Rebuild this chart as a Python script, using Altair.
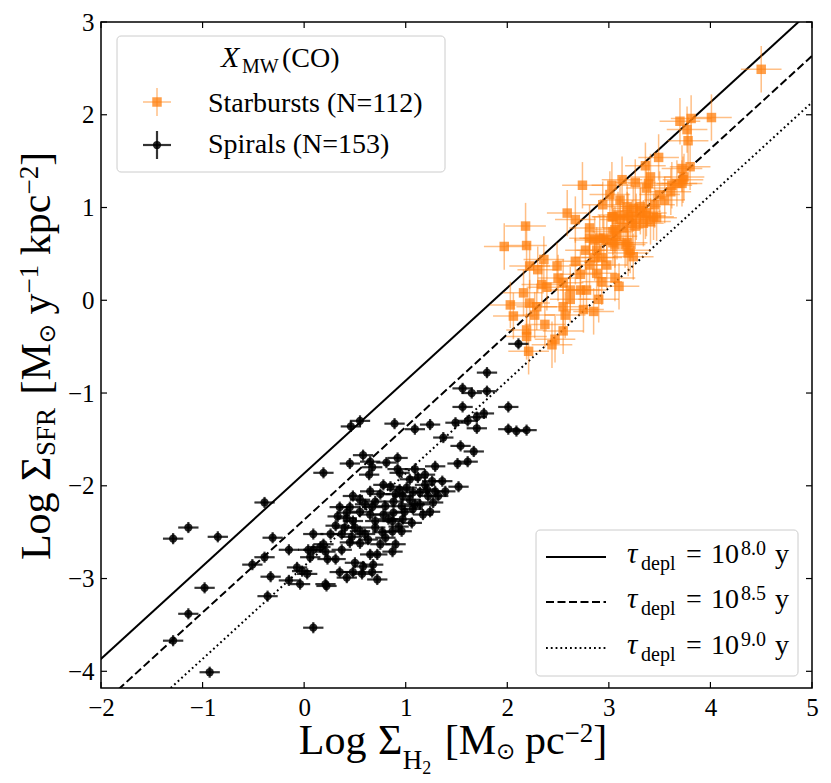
import math
import altair as alt
import pandas as pd

SERIF = "Liberation Serif"
SYMF = "DejaVu Sans"
ORANGE = "#ff7f0e"

# ---------------- data ----------------
SB_X = [4.50, 3.70, 3.81, 4.01, 3.77, 3.78, 3.49, 3.36, 3.72, 3.80,
        3.74, 3.72, 3.62, 3.61, 3.41, 3.39, 3.26, 3.37, 3.13, 3.03,
        2.74, 2.94, 2.59, 2.67, 2.18, 1.97, 2.19, 2.22, 2.36, 2.30,
        2.49, 2.67, 2.81, 2.81, 2.86, 2.95, 2.98, 3.04, 3.08, 3.03,
        3.09, 3.18, 3.24, 3.31, 3.18, 3.27, 3.37, 3.44, 3.47, 3.23,
        3.34, 3.41, 3.14, 3.26, 3.18, 3.21, 3.24, 3.06, 2.88, 2.86,
        2.93, 2.98, 2.88, 2.93, 3.06, 3.10, 2.50, 2.55, 2.34, 2.39,
        2.62, 2.72, 2.78, 2.16, 2.03, 2.22, 2.29, 2.55, 2.57, 2.75,
        2.85, 2.90, 2.06, 2.27, 2.19, 2.19, 2.55, 2.47, 2.44, 2.21,
        3.31, 3.19, 3.36, 3.04, 3.11, 3.06, 2.91, 3.04, 3.16, 3.19,
        3.67, 3.73, 3.50, 3.55, 3.45, 3.11, 3.01, 2.77, 2.72, 2.62,
        2.37, 2.81]
SB_Y = [2.49, 1.93, 1.96, 1.97, 1.84, 1.72, 1.54, 1.45, 1.42, 1.44,
        1.33, 1.26, 1.24, 1.17, 1.33, 1.26, 1.27, 1.21, 1.30, 1.24,
        1.24, 1.03, 0.94, 0.87, 0.80, 0.58, 0.59, 0.37, 0.44, 0.33,
        0.37, 0.42, 0.78, 0.67, 0.65, 0.67, 0.65, 0.74, 0.69, 0.90,
        0.92, 1.01, 0.99, 1.01, 0.92, 0.90, 0.94, 0.90, 0.89, 0.83,
        0.83, 0.85, 0.78, 0.80, 0.62, 0.54, 0.47, 0.60, 0.54, 0.46,
        0.46, 0.38, 0.29, 0.20, 0.24, 0.15, 0.24, 0.19, 0.17, 0.14,
        0.11, 0.11, 0.11, 0.08, -0.05, -0.03, -0.07, -0.07, -0.16, -0.10,
        -0.12, 0.01, -0.17, -0.16, -0.32, -0.39, -0.33, -0.42, -0.48, -0.55,
        0.96, 0.90, 0.91, 0.90, 0.87, 0.76, 0.67, 0.62, 0.60, 0.51,
        1.26, 1.30, 1.14, 1.08, 1.03, 1.08, 1.14, 0.54, 0.28, 0.01,
        -0.26, 0.38]

SP_X = [-1.29, -1.14, -0.85, -0.39, -0.98, -1.14, -1.29, -0.93, 0.09, 0.19,
        -0.31, -0.15, -0.39, -0.51, -0.36, -0.33, -0.15, -0.04, 0.22, -0.07,
        -0.02, 0.03, 0.09, 0.04, 0.09, 0.16, 0.06, 0.23, 0.31, 0.21,
        0.35, 0.42, 0.48, 0.57, 0.67, 0.72, 0.50, 0.58, 0.68, 0.65,
        0.72, 0.87, 0.19, 0.21, 0.37, 0.45, 0.55, 0.37, 0.47, 0.60,
        0.80, 0.31, 0.50, 0.55, 0.70, 0.77, 0.87, 0.96, 0.33, 0.42,
        0.48, 0.70, 0.87, 0.97, 1.06, 0.35, 0.45, 0.55, 0.65, 0.78,
        0.88, 0.99, 1.07, 1.17, 1.24, 0.42, 0.48, 0.55, 0.70, 0.80,
        0.88, 0.96, 1.27, 0.65, 0.78, 0.85, 1.04, 1.12, 1.01, 1.07,
        0.97, 1.04, 1.14, 1.26, 1.36, 1.29, 1.39, 1.52, 0.45, 0.58,
        0.65, 0.67, 0.64, 0.81, 0.92, 0.92, 0.94, 1.29, 1.51, 1.61,
        1.54, 1.67, 1.37, 1.09, 1.24, 0.89, 0.46, 0.55, 1.49, 1.61,
        1.70, 1.77, 1.70, 1.56, 2.01, 1.56, 1.65, 1.80, 1.80, 2.01,
        2.09, 2.19, 2.11, 1.19, 1.22, 1.32, 1.09, 0.94, 0.90, 0.75,
        0.60, 0.67, 0.83, 0.93, 1.14, 1.21, 1.09, 1.19, 0.40, 0.63,
        0.75, 0.90, 0.26]
SP_Y = [-2.57, -2.45, -2.55, -2.18, -3.10, -3.38, -3.67, -4.01, -3.53, -1.86,
        -2.56, -2.69, -2.77, -2.85, -3.19, -2.98, -3.02, -3.06, -3.08, -2.88,
        -2.92, -2.95, -2.52, -2.69, -2.69, -2.66, -2.77, -2.79, -2.79, -3.06,
        -2.93, -2.99, -2.93, -2.95, -2.93, -3.01, -2.83, -2.87, -2.85, -2.74,
        -2.74, -2.71, -2.63, -2.71, -2.69, -2.61, -2.62, -2.52, -2.55, -2.52,
        -2.56, -2.43, -2.45, -2.49, -2.45, -2.50, -2.49, -2.49, -2.33, -2.35,
        -2.38, -2.38, -2.38, -2.36, -2.40, -2.23, -2.23, -2.28, -2.31, -2.31,
        -2.29, -2.28, -2.25, -2.31, -2.28, -2.29, -2.11, -2.15, -2.17, -2.22,
        -2.17, -2.22, -2.18, -2.06, -1.99, -2.01, -1.93, -1.91, -2.02, -2.07,
        -2.11, -2.15, -2.07, -1.95, -1.95, -2.06, -2.06, -2.01, -1.76, -1.67,
        -1.74, -1.80, -1.88, -1.75, -1.70, -1.82, -1.86, -1.79, -1.76, -1.74,
        -1.57, -1.63, -1.48, -1.39, -1.34, -1.33, -1.36, -1.30, -1.32, -1.30,
        -1.26, -1.22, -1.38, -1.15, -1.15, -0.95, -1.00, -0.98, -0.78, -1.39,
        -1.41, -1.40, -0.47, -1.99, -2.11, -2.11, -2.20, -2.04, -2.09, -2.09,
        -2.20, -2.23, -2.36, -2.44, -2.20, -2.04, -1.82, -1.88, -2.45, -2.58,
        -2.63, -2.63, -2.52]

SB_XERR, SB_YERR = 0.20, 0.25
SP_XERR, SP_YERR = 0.10, 0.06

TAU_EXP = [8.0, 8.5, 9.0]
TAU_LABELS = ["8.0", "8.5", "9.0"]
LINE_X = [-2.5, 5.5]
XTICKS = list(range(-2, 6))
YTICKS = list(range(-4, 4))

# ---------------- layout ----------------
W, H = 711, 666
OX, OY = 101, 22   # page position of plot origin (8px page margin + padding)

xs = alt.Scale(domain=[-2, 5], nice=False, zero=False)
ys = alt.Scale(domain=[-4.18, 3], nice=False, zero=False)
common_axis = dict(tickSize=0, domain=False, grid=False, labelFont=SERIF,
                   labelFontSize=25, labelColor="black", labelPadding=7,
                   title=None, labelFlush=False, labelOverlap=False)
xaxis = alt.Axis(values=XTICKS, **common_axis)
yaxis = alt.Axis(values=YTICKS, **common_axis)

ONE = pd.DataFrame({"o": [0]})


def X(f):
    return alt.X(f, scale=xs, axis=xaxis)


def Y(f):
    return alt.Y(f, scale=ys, axis=yaxis)


def txt(s, px, py, size, font=SERIF, style="normal", angle=0):
    return alt.Chart(ONE).mark_text(
        text=s, font=font, fontSize=size, fontStyle=style, align="left",
        baseline="alphabetic", angle=angle, color="black"
    ).encode(x=alt.value(px - OX), y=alt.value(py - OY))


TIMES = {' ': 250, 'L': 611, 'o': 500, 'g': 500, 'Σ': 592, 'H': 722, '2': 500,
         '[': 333, 'M': 889, 'p': 500, 'c': 444, '−': 564, ']': 333, 'S': 556,
         'F': 556, 'R': 667, 'y': 500, '1': 500, 'k': 500}


def tw(s, size, font):
    if font == SYMF:
        return 0.838 * size * len(s)
    return sum(TIMES.get(c, 500) for c in s) * size / 1000.0


layers = []

# depletion-time lines
dashes = {8.0: None, 8.5: [8, 3.5], 9.0: [1.8, 3]}
for t in TAU_EXP:
    df = pd.DataFrame({"x": LINE_X,
                       "y": [x + 6 + math.log10(1.36) - t for x in LINE_X]})
    kw = dict(color="black", strokeWidth=2, clip=True)
    if dashes[t]:
        kw["strokeDash"] = dashes[t]
    layers.append(alt.Chart(df).mark_line(**kw).encode(x=X("x:Q"), y=Y("y:Q")))

# starbursts
sb = pd.DataFrame({"x": SB_X, "y": SB_Y})
sb["xlo"], sb["xhi"] = sb.x - SB_XERR, sb.x + SB_XERR
sb["ylo"], sb["yhi"] = sb.y - SB_YERR, sb.y + SB_YERR
layers.append(alt.Chart(sb).mark_rule(color=ORANGE, opacity=0.5, strokeWidth=1.5)
              .encode(x=X("xlo:Q"), x2="xhi:Q", y=Y("y:Q")))
layers.append(alt.Chart(sb).mark_rule(color=ORANGE, opacity=0.5, strokeWidth=1.5)
              .encode(x=X("x:Q"), y=Y("ylo:Q"), y2="yhi:Q"))
layers.append(alt.Chart(sb).mark_point(shape="square", filled=True, size=90,
                                       color=ORANGE, opacity=0.75, strokeWidth=0)
              .encode(x=X("x:Q"), y=Y("y:Q")))

# spirals
sp = pd.DataFrame({"x": SP_X, "y": SP_Y})
sp["xlo"], sp["xhi"] = sp.x - SP_XERR, sp.x + SP_XERR
sp["ylo"], sp["yhi"] = sp.y - SP_YERR, sp.y + SP_YERR
layers.append(alt.Chart(sp).mark_rule(color="black", opacity=0.8, strokeWidth=2.2)
              .encode(x=X("xlo:Q"), x2="xhi:Q", y=Y("y:Q")))
layers.append(alt.Chart(sp).mark_rule(color="black", opacity=0.8, strokeWidth=2.2)
              .encode(x=X("x:Q"), y=Y("ylo:Q"), y2="yhi:Q"))
layers.append(alt.Chart(sp).mark_point(shape="circle", filled=True, size=68,
                                       color="black", opacity=0.85, strokeWidth=0)
              .encode(x=X("x:Q"), y=Y("y:Q")))

# inward ticks on all four sides
xt = pd.DataFrame({"v": XTICKS})
yt = pd.DataFrame({"v": YTICKS})
tk = dict(color="black", strokeWidth=1.2)
layers.append(alt.Chart(xt).mark_rule(**tk).encode(x=X("v:Q"), y=alt.value(H), y2=alt.value(H - 6)))
layers.append(alt.Chart(xt).mark_rule(**tk).encode(x=X("v:Q"), y=alt.value(0), y2=alt.value(6)))
layers.append(alt.Chart(yt).mark_rule(**tk).encode(y=Y("v:Q"), x=alt.value(0), x2=alt.value(6)))
layers.append(alt.Chart(yt).mark_rule(**tk).encode(y=Y("v:Q"), x=alt.value(W), x2=alt.value(W - 6)))

# ---------------- legend 1 (top-left) ----------------
box = dict(fill="white", fillOpacity=0.8, stroke="#cccccc", strokeWidth=1, cornerRadius=4)
layers.append(alt.Chart(ONE).mark_rect(**box).encode(
    x=alt.value(117 - OX), x2=alt.value(445 - OX), y=alt.value(36 - OY), y2=alt.value(172 - OY)))
layers.append(txt("X", 221, 67, 30, style="italic"))
layers.append(txt("MW", 242, 73, 20))
layers.append(txt("(CO)", 282, 67, 28))
for (mx, my, col, shape, sz, op, eop, ew, label, tb) in [
        (157, 102, ORANGE, "square", 90, 0.75, 0.5, 1.5, "Starbursts (N=112)", 112),
        (157, 145, "black", "circle", 68, 0.85, 0.8, 2.2, "Spirals (N=153)", 153)]:
    layers.append(alt.Chart(ONE).mark_rule(color=col, opacity=eop, strokeWidth=ew).encode(
        x=alt.value(mx - 14 - OX), x2=alt.value(mx + 14 - OX), y=alt.value(my - OY)))
    layers.append(alt.Chart(ONE).mark_rule(color=col, opacity=eop, strokeWidth=ew).encode(
        x=alt.value(mx - OX), y=alt.value(my - 14 - OY), y2=alt.value(my + 14 - OY)))
    layers.append(alt.Chart(ONE).mark_point(shape=shape, filled=True, size=sz, color=col,
                                            opacity=op, strokeWidth=0).encode(
        x=alt.value(mx - OX), y=alt.value(my - OY)))
    layers.append(txt(label, 208, tb, 28))

# ---------------- legend 2 (bottom-right) ----------------
layers.append(alt.Chart(ONE).mark_rect(**box).encode(
    x=alt.value(536 - OX), x2=alt.value(798 - OX), y=alt.value(530 - OY), y2=alt.value(676 - OY)))
for i, t in enumerate(TAU_EXP):
    ly = [557, 602, 648][i]
    b = [563, 608, 653.5][i]
    kw = dict(color="black", strokeWidth=2)
    if dashes[t]:
        kw["strokeDash"] = dashes[t]
    layers.append(alt.Chart(ONE).mark_rule(**kw).encode(
        x=alt.value(546 - OX), x2=alt.value(606 - OX), y=alt.value(ly - OY)))
    layers.append(txt("τ", 627, b, 29, style="italic"))
    layers.append(txt("depl", 641, b + 7, 20))
    layers.append(txt("=", 686, b, 28))
    layers.append(txt("10", 711, b, 28))
    layers.append(txt(TAU_LABELS[i], 741, b - 8, 20))
    layers.append(txt("y", 775, b, 28))

# ---------------- axis titles built from pieces ----------------
MAIN, SUB, SUBSUB, SUP, SYM = 42, 27, 18, 27, 23
xt_pieces = [("Log", MAIN, 0, SERIF, 0), ("Σ", MAIN, 0, SERIF, 11.5),
             ("H", SUB, 15, SERIF, 0), ("2", SUBSUB, 20, SERIF, 0),
             ("[M", MAIN, 0, SERIF, 13.5), ("⊙", SYM, 5, SYMF, 0),
             ("pc", MAIN, 0, SERIF, 9.5), ("−2", SUP, -12, SERIF, 0),
             ("]", MAIN, 0, SERIF, 0)]
total = sum(tw(s, z, f) + g for s, z, _, f, g in xt_pieces)
cx = 453 - total / 2
for s, z, sh, f, g in xt_pieces:
    cx += g
    layers.append(txt(s, cx, 754 + sh, z, font=f))
    cx += tw(s, z, f)

yt_pieces = [("Log", MAIN, 0, SERIF, 0), ("Σ", MAIN, 0, SERIF, 11.5),
             ("SFR", SUB, 5, SERIF, 0),
             ("[M", MAIN, 0, SERIF, 13.5), ("⊙", SYM, 5, SYMF, 0),
             ("y", MAIN, 0, SERIF, 9.5), ("−1", SUP, -12, SERIF, 0),
             ("kpc", MAIN, 0, SERIF, 9.5), ("−2", SUP, -12, SERIF, 0),
             ("]", MAIN, 0, SERIF, 0)]
total = sum(tw(s, z, f) + g for s, z, _, f, g in yt_pieces)
cy = 356 + total / 2
for s, z, sh, f, g in yt_pieces:
    cy -= g
    layers.append(txt(s, 50 + sh, cy, z, font=f, angle=270))
    cy -= tw(s, z, f)

chart = alt.layer(*layers).properties(
    width=W, height=H,
    padding={"left": OX - 8, "top": OY - 8, "right": 10, "bottom": 90},
    autosize=alt.AutoSizeParams(type="none"),
).configure_view(stroke="black", strokeWidth=1.5)

chart.save("out.html", embed_options={"renderer": "svg", "actions": False})
